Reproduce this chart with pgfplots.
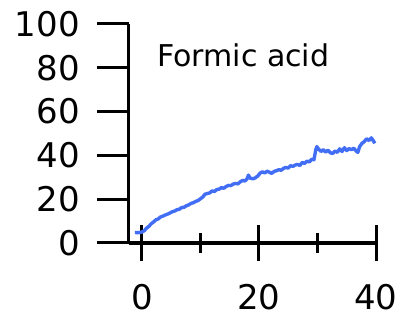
\documentclass[border=0pt]{standalone}
\usepackage{pgfplots}
\pgfplotsset{compat=1.18}
\usepackage{fontspec}
\setmainfont{DejaVu Sans}
\definecolor{lineblue}{RGB}{66,110,245}
\pgfplotstableread{
x y
-1.2 4.8
-0.6 4.7
0.0 5.0
0.4 5.6
0.8 6.8
1.2 7.6
1.6 8.8
2.0 9.6
2.4 10.6
2.8 11.0
3.2 11.9
3.6 12.3
4.0 12.8
4.4 13.2
4.8 13.7
5.2 14.3
5.6 14.6
6.0 15.2
6.4 15.4
6.8 16.2
7.2 16.3
7.6 17.0
8.0 17.4
8.4 18.1
8.8 18.4
9.2 19.0
9.6 19.4
10.0 20.2
10.4 21.0
10.8 22.3
11.2 22.6
11.6 22.9
12.0 23.8
12.4 23.5
12.8 24.4
13.2 24.6
13.6 25.3
14.0 25.0
14.4 25.8
14.8 26.3
15.2 26.2
15.6 26.9
16.0 27.2
16.4 27.0
16.8 27.9
17.2 28.6
17.6 28.3
18.0 29.4
18.2 31.0
18.5 29.6
19.0 29.3
19.4 29.8
19.8 30.6
20.2 31.9
20.6 32.5
21.0 32.0
21.4 32.8
21.8 32.3
22.2 31.8
22.6 32.7
23.0 33.0
23.4 33.5
23.8 33.2
24.2 34.1
24.6 34.5
25.0 34.2
25.4 35.3
25.8 35.0
26.2 35.6
26.6 35.9
27.0 35.4
27.4 36.8
27.8 36.3
28.2 37.4
28.6 37.0
29.0 38.2
29.4 38.0
29.7 42.5
29.9 44.0
30.2 42.8
30.6 41.8
31.0 42.6
31.4 41.5
31.8 42.4
32.2 41.2
32.6 40.9
33.0 42.0
33.4 41.4
33.8 43.0
34.2 41.8
34.6 43.5
35.0 42.2
35.4 43.1
35.8 42.6
36.2 43.3
36.6 42.0
36.9 41.4
37.2 44.0
37.6 45.5
38.0 46.3
38.4 47.6
38.8 46.8
39.2 48.0
39.5 46.9
39.8 45.5
}\datatable
\begin{document}
\begin{tikzpicture}
\path[use as bounding box] (-129pt,-75pt) rectangle (272pt,243pt);
\pgfplotsset{
  common/.style={
    width=247pt, height=219pt, scale only axis,
    xmin=-2.2, xmax=40, ymin=0, ymax=100,
    at={(0,0)}, anchor=south west,
    /pgf/number format/assume math mode=true,
    ticklabel style={font=\fontsize{34}{40}\selectfont, inner sep=0pt},
    every tick/.style={black, line width=3pt},
    clip=false,
  }
}
\begin{axis}[common,
  axis y line*=left, axis x line=none,
  y axis line style={-, line width=3pt},
  ytick={0,20,40,60,80,100},
  tick align=outside,
  major tick length=32pt,
  yticklabel style={anchor=east, xshift=-17pt},
]
\end{axis}
\begin{axis}[common,
  axis x line*=bottom, axis y line=none,
  x axis line style={-, line width=3pt},
  xtick={0,20,40}, minor xtick={10,30},
  tick align=center,
  major tick length=36pt, minor tick length=19pt,
  every minor tick/.style={black, line width=3pt},
  xticklabel style={anchor=north, yshift=-23pt},
]
\addplot[lineblue, line width=3.4pt, line join=round] table[x=x,y=y] {\datatable};
\node[anchor=base west, inner sep=0pt, font=\fontsize{30}{36}\selectfont] at (rel axis cs:0.113,0.804) {Formic acid};
\end{axis}
\end{tikzpicture}
\end{document}
